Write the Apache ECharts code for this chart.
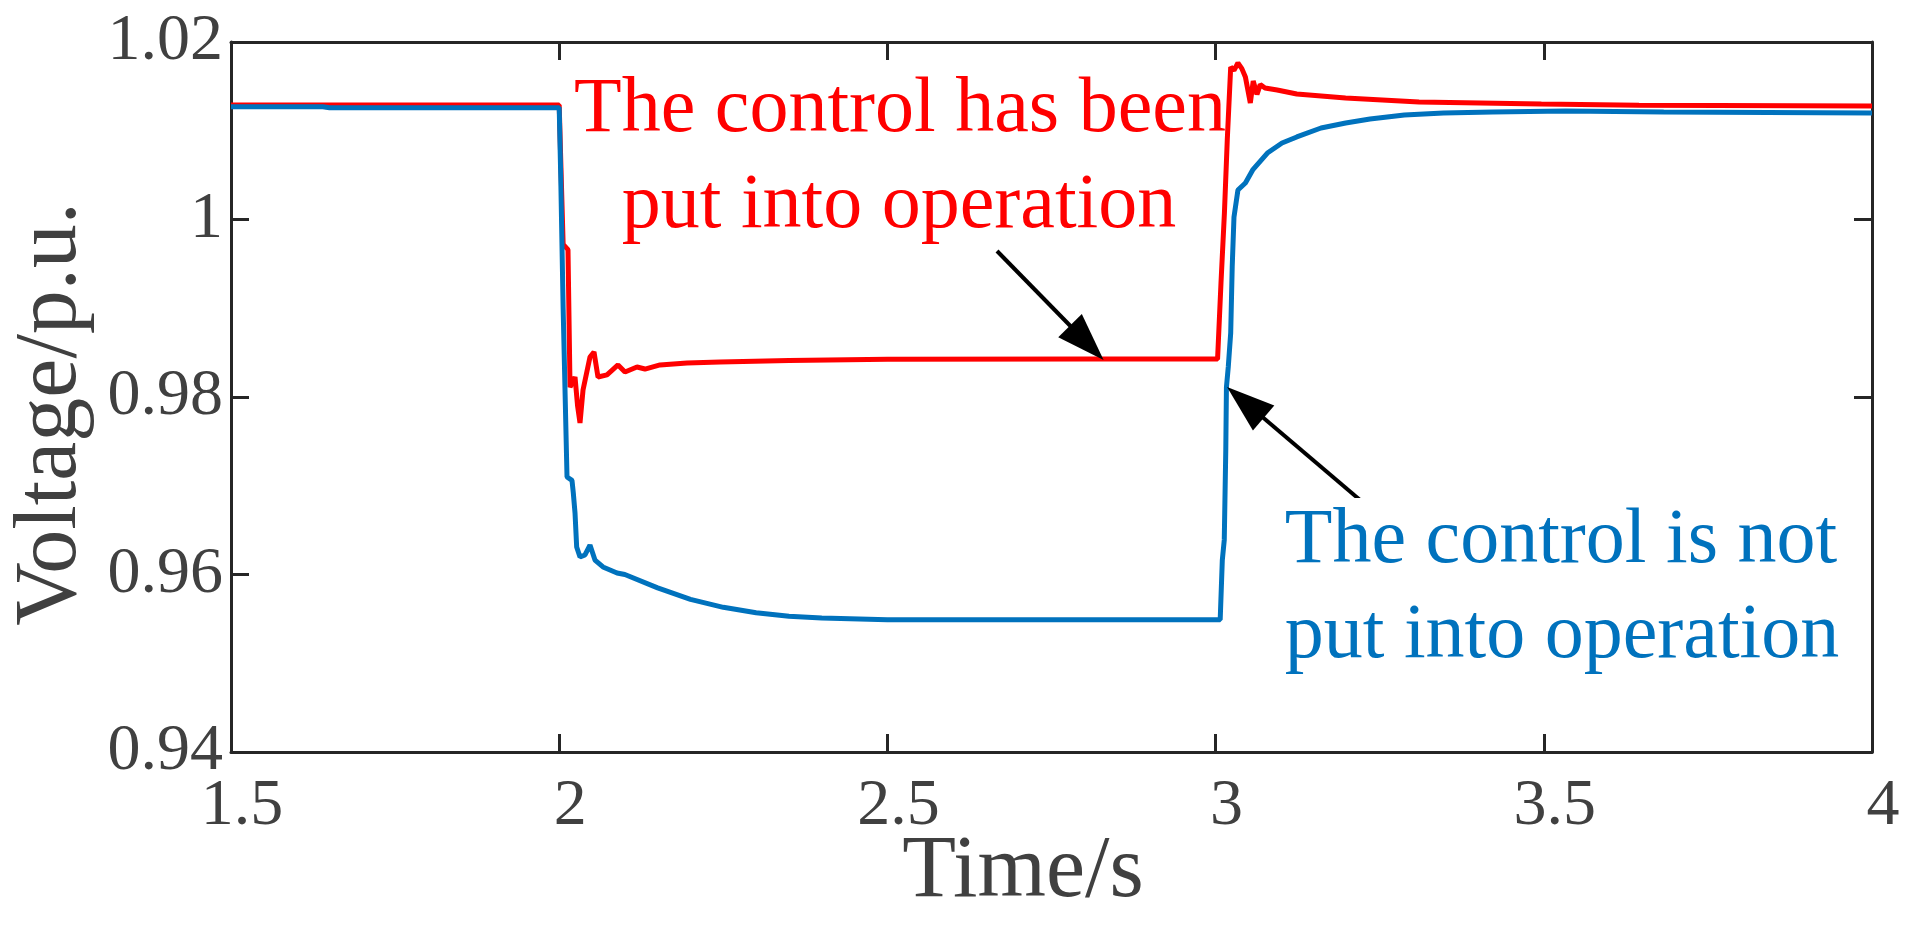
<!DOCTYPE html>
<html>
<head>
<meta charset="utf-8">
<script src="https://cdn.jsdelivr.net/npm/echarts@6/dist/echarts.min.js"></script>
<style>
html,body{margin:0;padding:0;background:#fff;}
#chart{width:1917px;height:931px;}
</style>
</head>
<body>
<div id="chart"></div>
<script>
// ---- data ----
const xTicks = [1.5, 2, 2.5, 3, 3.5, 4];
const yTicks = [0.94, 0.96, 0.98, 1, 1.02];

const timeRed = [1.5, 2.0, 2.003, 2.006, 2.0134, 2.0165, 2.0241, 2.028, 2.0317, 2.0363, 2.0469, 2.053, 2.0591, 2.0728, 2.0896, 2.1002, 2.1185, 2.1307, 2.1536, 2.1947, 2.245, 2.35, 2.5, 2.8, 3.003, 3.0082, 3.0134, 3.0178, 3.023, 3.028, 3.034, 3.040, 3.0454, 3.0529, 3.0573, 3.063, 3.068, 3.0753, 3.0938, 3.1237, 3.198, 3.3099, 3.4963, 3.645, 4.0];
const voltRed = [1.0129, 1.0129, 1.005, 0.9972, 0.9966, 0.9811, 0.98225, 0.9790, 0.97707, 0.9808, 0.98451, 0.98507, 0.98225, 0.9825, 0.98361, 0.98282, 0.98338, 0.98315, 0.98361, 0.98383, 0.98394, 0.98410, 0.98425, 0.98428, 0.98428, 0.99284, 1.0007, 1.0090, 1.01718, 1.0168, 1.01763, 1.0170, 1.01606, 1.01313, 1.0156, 1.0141, 1.0152, 1.01482, 1.01459, 1.01414, 1.0137, 1.01324, 1.01301, 1.01287, 1.01279];

const timeBlue = [1.5, 1.64, 1.65, 2.0, 2.0023, 2.006, 2.0119, 2.0195, 2.0215, 2.0241, 2.0266, 2.0317, 2.0393, 2.0469, 2.0545, 2.0667, 2.0881, 2.1, 2.15, 2.2, 2.25, 2.3, 2.35, 2.4, 2.5, 3.007, 3.0102, 3.0132, 3.0155, 3.0165, 3.0193, 3.023, 3.0253, 3.028, 3.034, 3.0454, 3.0565, 3.0789, 3.1012, 3.1237, 3.1606, 3.1982, 3.2352, 3.2876, 3.3472, 3.4219, 3.5335, 3.6827, 4.0];
const voltBlue = [1.0127, 1.0127, 1.0126, 1.0126, 1.005, 0.990, 0.97099, 0.9706, 0.96918, 0.96693, 0.9631, 0.96197, 0.9622, 0.96332, 0.96163, 0.96085, 0.96017, 0.9600, 0.9585, 0.9572, 0.9563, 0.9557, 0.9553, 0.9551, 0.9549, 0.9549, 0.9616, 0.9639, 0.9740, 0.9811, 0.98338, 0.98721, 0.99465, 1.00028, 1.00332, 1.00411, 1.00558, 1.00749, 1.00862, 1.0093, 1.01031, 1.01087, 1.01132, 1.01177, 1.012, 1.01211, 1.01222, 1.01211, 1.0120];

// annotation arrows: [tail, head] in data coordinates (time, voltage)
const arrowRed = [[2.667, 0.99645], [2.8038, 0.98611]];
const arrowBlue = [[3.2505, 0.96648], [3.0453, 0.97938]];

const labelRed = ['The control has been', 'put into operation'];
const labelBlue = ['The control is not', 'put into operation'];
const xName = 'Time/s';
const yName = 'Voltage/p.u.';

// ---- chart ----
const FONT = 'Liberation Serif';
const TXT = '#404040';
const AX = '#262626';
const RED = '#FF0000';
const BLUE = '#0072BD';

const zip = (a, b) => a.map((v, i) => [v, b[i]]);

const chart = echarts.init(document.getElementById('chart'), null, {renderer: 'canvas'});

const baseAxis = {
  axisLine: {show: true, onZero: false, lineStyle: {color: AX, width: 3}},
  axisTick: {show: true, inside: true, length: 18, lineStyle: {color: AX, width: 3}},
  splitLine: {show: false},
};

const option = {
  backgroundColor: '#fff',
  animation: false,
  grid: {left: 231, right: 45, top: 42, bottom: 179, containLabel: false},
  xAxis: [
    Object.assign({}, baseAxis, {
      type: 'value', position: 'bottom', min: 1.5, max: 4, interval: 0.5,
      axisLabel: {show: true, color: TXT, fontFamily: FONT, fontSize: 66, margin: 22,
        padding: [0, 0, 0, 22],
        formatter: v => String(xTicks.find(t => Math.abs(t - v) < 1e-9) ?? v)}
    }),
    Object.assign({}, baseAxis, {
      type: 'value', position: 'top', min: 1.5, max: 4, interval: 0.5,
      axisLabel: {show: false}
    })
  ],
  yAxis: [
    Object.assign({}, baseAxis, {
      type: 'value', position: 'left', min: 0.94, max: 1.02, interval: 0.02,
      axisLabel: {show: true, color: TXT, fontFamily: FONT, fontSize: 66, margin: 8,
        padding: [12, 0, 0, 0],
        formatter: v => String(yTicks.find(t => Math.abs(t - v) < 1e-9) ?? v)}
    }),
    Object.assign({}, baseAxis, {
      type: 'value', position: 'right', min: 0.94, max: 1.02, interval: 0.02,
      axisLabel: {show: false}
    })
  ],
  series: [
    {
      name: 'control on', type: 'line', xAxisIndex: 0, yAxisIndex: 0,
      data: zip(timeRed, voltRed), showSymbol: false, symbol: 'none', smooth: false,
      lineStyle: {color: RED, width: 5}, z: 3,
      markLine: {
        silent: true, animation: false,
        symbol: ['none', 'triangle'], symbolSize: [33, 48],
        label: {show: false},
        lineStyle: {color: '#000', width: 4, type: 'solid'},
        itemStyle: {color: '#000'},
        emphasis: {disabled: true},
        data: [
          [{coord: arrowRed[0]}, {coord: arrowRed[1]}],
          [{coord: arrowBlue[0]}, {coord: arrowBlue[1]}]
        ]
      }
    },
    {
      name: 'control off', type: 'line', xAxisIndex: 0, yAxisIndex: 0,
      data: zip(timeBlue, voltBlue), showSymbol: false, symbol: 'none', smooth: false,
      lineStyle: {color: BLUE, width: 5}, z: 4
    }
  ],
  graphic: [
    {type: 'rect', z: 50, shape: {x: 1275, y: 498, width: 596, height: 185}, style: {fill: '#fff'}},
    {type: 'text', z: 60, x: 900, y: 111, style: {text: labelRed[0], fill: RED, font: '78px ' + FONT, align: 'center', verticalAlign: 'middle'}},
    {type: 'text', z: 60, x: 899, y: 207, style: {text: labelRed[1], fill: RED, font: '78px ' + FONT, align: 'center', verticalAlign: 'middle'}},
    {type: 'text', z: 60, x: 1561, y: 542, style: {text: labelBlue[0], fill: BLUE, font: '78px ' + FONT, align: 'center', verticalAlign: 'middle'}},
    {type: 'text', z: 60, x: 1562, y: 637, style: {text: labelBlue[1], fill: BLUE, font: '78px ' + FONT, align: 'center', verticalAlign: 'middle'}},
    {type: 'text', z: 60, x: 1023, y: 873, style: {text: xName, fill: TXT, font: '88px ' + FONT, align: 'center', verticalAlign: 'middle'}},
    {type: 'text', z: 60, x: 52, y: 414, rotation: Math.PI / 2, style: {text: yName, fill: TXT, font: '88px ' + FONT, align: 'center', verticalAlign: 'middle'}}
  ]
};

chart.setOption(option);
</script>
</body>
</html>
